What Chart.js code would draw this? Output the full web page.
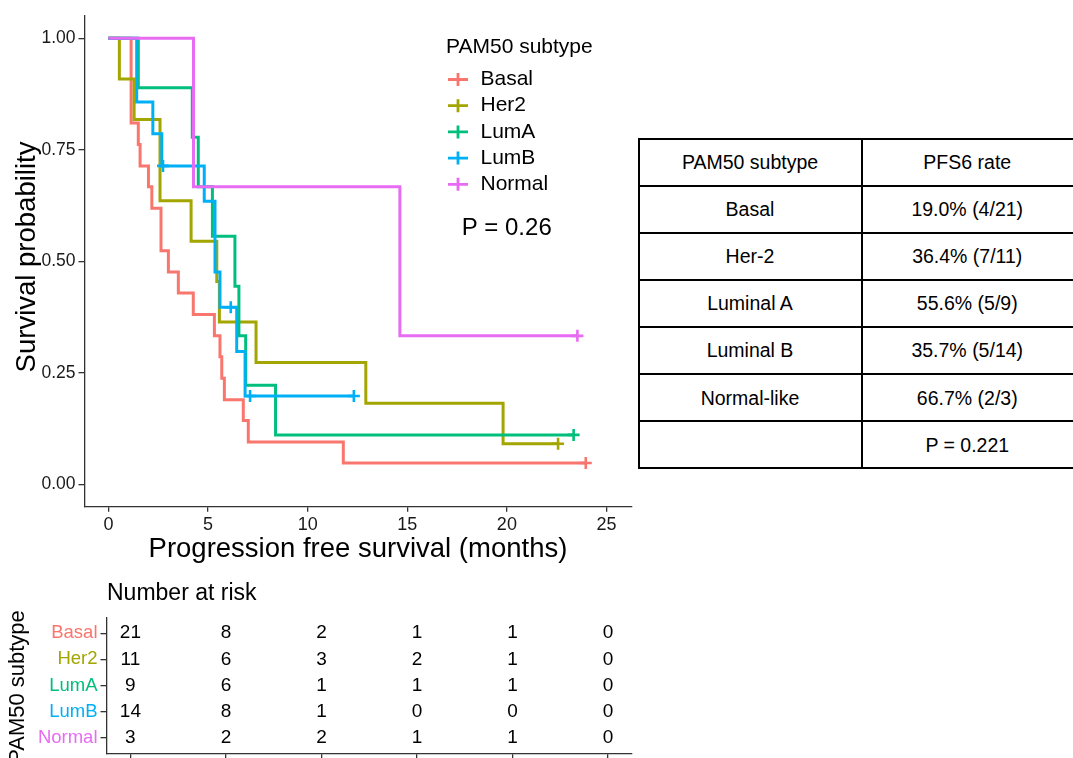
<!DOCTYPE html>
<html><head><meta charset="utf-8">
<script src="https://cdn.jsdelivr.net/npm/chart.js@4.4.1/dist/chart.umd.min.js"></script>
<style>
html,body{margin:0;padding:0;background:#fff;}
#wrap{position:relative;width:1073px;height:758px;overflow:hidden;font-family:"Liberation Sans",Arial,sans-serif;background:#fff;}
#main{position:absolute;left:0;top:0;}
#risk{position:absolute;left:0;top:560px;}
.tl{position:absolute;background:#000;}
.tc{position:absolute;text-align:center;font-size:19.5px;color:#000;line-height:22px;white-space:nowrap;transform:translate(-50%,-50%);}
</style></head><body>
<div id="wrap">
<canvas id="main" width="640" height="580"></canvas>
<canvas id="risk" width="640" height="198"></canvas>
<div id="tbl"></div>
</div>
<script>
// ---------- data ----------
const groups = ['Basal','Her2','LumA','LumB','Normal'];
const colors = ['#F8766D','#A3A500','#00BF7D','#00B0F6','#E76BF3'];

const basalTime = [0, 1.14, 1.50, 1.59, 2.01, 2.18, 2.64, 3.01, 3.51, 4.26, 5.32, 5.60, 5.69, 5.82, 6.77, 7.02, 11.79, 23.96];
const basalSurv = [1, 0.810, 0.762, 0.714, 0.667, 0.619, 0.524, 0.476, 0.429, 0.381, 0.333, 0.286, 0.238, 0.190, 0.143, 0.095, 0.048, 0.048];
const basalCensorTime = [23.96];
const basalCensorSurv = [0.048];

const her2Time = [0, 0.55, 1.29, 2.59, 4.15, 5.44, 5.57, 7.41, 12.92, 19.81, 22.57];
const her2Surv = [1, 0.909, 0.818, 0.636, 0.545, 0.455, 0.364, 0.273, 0.182, 0.091, 0.091];
const her2CensorTime = [22.57];
const her2CensorSurv = [0.091];

const lumATime = [0, 1.50, 4.21, 4.51, 5.22, 6.35, 6.55, 6.89, 8.39, 23.35];
const lumASurv = [1, 0.889, 0.778, 0.667, 0.556, 0.444, 0.333, 0.222, 0.111, 0.111];
const lumACensorTime = [23.35];
const lumACensorSurv = [0.111];

const lumBTime = [0, 1.42, 2.23, 2.68, 4.81, 5.35, 5.60, 6.44, 6.86, 12.32];
const lumBSurv = [1, 0.857, 0.786, 0.714, 0.635, 0.476, 0.397, 0.298, 0.198, 0.198];
const lumBCensorTime = [2.74, 6.14, 7.11, 12.32];
const lumBCensorSurv = [0.714, 0.397, 0.198, 0.198];

const normalTime = [0, 4.27, 14.63, 23.54];
const normalSurv = [1, 0.667, 0.333, 0.333];
const normalCensorTime = [23.54];
const normalCensorSurv = [0.333];

const xTicks = [0, 5, 10, 15, 20, 25];
const yTicks = [0, 0.25, 0.5, 0.75, 1];

const riskTimes = [0, 5, 10, 15, 20, 25];
const riskBasal  = [21, 8, 2, 1, 1, 0];
const riskHer2   = [11, 6, 3, 2, 1, 0];
const riskLumA   = [9, 6, 1, 1, 1, 0];
const riskLumB   = [14, 8, 1, 0, 0, 0];
const riskNormal = [3, 2, 2, 1, 1, 0];

const pLabel = 'P = 0.26';
const legendTitle = 'PAM50 subtype';
const xTitle = 'Progression free survival (months)';
const yTitle = 'Survival probability';
const riskTitle = 'Number at risk';

const tableHeader = ['PAM50 subtype', 'PFS6 rate'];
const tableSubtypes = ['Basal', 'Her-2', 'Luminal A', 'Luminal B', 'Normal-like', ''];
const tableRates = ['19.0% (4/21)', '36.4% (7/11)', '55.6% (5/9)', '35.7% (5/14)', '66.7% (2/3)', 'P = 0.221'];

// ---------- build ----------
const FONT = '"Liberation Sans", Arial, sans-serif';
const curveTimes = [basalTime, her2Time, lumATime, lumBTime, normalTime];
const curveSurv = [basalSurv, her2Surv, lumASurv, lumBSurv, normalSurv];
const censT = [basalCensorTime, her2CensorTime, lumACensorTime, lumBCensorTime, normalCensorTime];
const censS = [basalCensorSurv, her2CensorSurv, lumACensorSurv, lumBCensorSurv, normalCensorSurv];
const riskRows = [riskBasal, riskHer2, riskLumA, riskLumB, riskNormal];

const datasets = [];
groups.forEach((g, i) => {
  datasets.push({
    label: g,
    data: curveTimes[i].map((t, k) => ({x: t, y: curveSurv[i][k]})),
    borderColor: colors[i], backgroundColor: colors[i],
    borderWidth: 3, pointRadius: 0, stepped: 'before', fill: false,
    order: 20 - i * 2
  });
  datasets.push({
    label: g + ' censor',
    data: censT[i].map((t, k) => ({x: t, y: censS[i][k]})),
    borderColor: colors[i], backgroundColor: colors[i],
    showLine: false, pointStyle: 'cross', pointRadius: 6, pointBorderWidth: 2.6,
    order: 19 - i * 2
  });
});

const noPad = s => { s.paddingTop = 0; s.paddingBottom = 0; s.paddingLeft = 0; s.paddingRight = 0; };

const mainDeco = {
  id: 'mainDeco',
  afterDraw(chart) {
    const ctx = chart.ctx, a = chart.chartArea;
    ctx.save();
    ctx.fillStyle = '#000';
    ctx.textBaseline = 'middle';
    ctx.textAlign = 'center';
    ctx.font = '27.5px ' + FONT;
    ctx.fillText(xTitle, (a.left + a.right) / 2, 549);
    ctx.save();
    ctx.translate(27, 257); ctx.rotate(-Math.PI / 2);
    ctx.fillText(yTitle, 0, 0);
    ctx.restore();
    // legend
    ctx.textAlign = 'left';
    ctx.font = '21px ' + FONT;
    ctx.fillText(legendTitle, 446, 47);
    groups.forEach((g, i) => {
      const y = 79.5 + i * 26.2;
      ctx.strokeStyle = colors[i]; ctx.lineWidth = 2.8;
      ctx.beginPath(); ctx.moveTo(448, y); ctx.lineTo(468, y);
      ctx.moveTo(458, y - 6.5); ctx.lineTo(458, y + 6.5); ctx.stroke();
      ctx.fillStyle = '#000';
      ctx.fillText(g, 480.5, y);
    });
    ctx.textAlign = 'center';
    ctx.font = '24px ' + FONT;
    ctx.fillText(pLabel, 506.7, 228);
    ctx.restore();
  }
};

new Chart(document.getElementById('main'), {
  type: 'line',
  data: { datasets },
  options: {
    responsive: false, animation: false, devicePixelRatio: 1,
    layout: { padding: { top: 16, right: 8, left: 0, bottom: 0 } },
    plugins: { legend: { display: false }, tooltip: { enabled: false } },
    scales: {
      x: {
        type: 'linear', min: -1.2, max: 26.25,
        afterBuildTicks: s => { s.ticks = xTicks.map(v => ({value: v})); },
        afterFit: s => { s.height = 73.3; noPad(s); },
        border: { display: true, color: '#333', width: 1.3 },
        grid: { drawOnChartArea: false, drawTicks: true, tickLength: 5, color: '#333', lineWidth: 1.3 },
        ticks: { font: { size: 18, family: FONT }, color: '#1a1a1a', padding: 3, maxRotation: 0, callback: v => String(v) }
      },
      y: {
        type: 'linear', min: -0.05, max: 1.05,
        afterBuildTicks: s => { s.ticks = yTicks.map(v => ({value: v})); },
        afterFit: s => { s.width = 84.5; noPad(s); },
        border: { display: true, color: '#333', width: 1.3 },
        grid: { drawOnChartArea: false, drawTicks: true, tickLength: 6, color: '#333', lineWidth: 1.3 },
        ticks: { font: { size: 17.5, family: FONT }, color: '#1a1a1a', padding: 3, callback: v => Number(v).toFixed(2) }
      }
    }
  },
  plugins: [mainDeco]
});

// ---------- risk table ----------
const riskDeco = {
  id: 'riskDeco',
  afterDatasetsDraw(chart) {
    const ctx = chart.ctx, xs = chart.scales.x, ys = chart.scales.y;
    ctx.save();
    ctx.fillStyle = '#000';
    ctx.textAlign = 'center'; ctx.textBaseline = 'middle';
    ctx.font = '19px ' + FONT;
    riskRows.forEach((row, i) => {
      row.forEach((n, k) => {
        ctx.fillText(String(n), xs.getPixelForValue(riskTimes[k]), ys.getPixelForValue(i));
      });
    });
    ctx.textAlign = 'left';
    ctx.font = '23px ' + FONT;
    ctx.fillText(riskTitle, 107, 34);
    ctx.textAlign = 'center';
    ctx.font = '22px ' + FONT;
    ctx.translate(18, 127); ctx.rotate(-Math.PI / 2);
    ctx.fillText(legendTitle, 0, 0);
    ctx.restore();
  }
};

new Chart(document.getElementById('risk'), {
  type: 'scatter',
  data: { datasets: [] },
  options: {
    responsive: false, animation: false, devicePixelRatio: 1,
    layout: { padding: { top: 57.5, right: 8, left: 0, bottom: 0 } },
    plugins: { legend: { display: false }, tooltip: { enabled: false } },
    scales: {
      x: {
        type: 'linear', min: -1.25, max: 26.25,
        afterBuildTicks: s => { s.ticks = riskTimes.map(v => ({value: v})); },
        afterFit: s => { s.height = 4.5; noPad(s); },
        border: { display: true, color: '#333', width: 1.3 },
        grid: { drawOnChartArea: false, drawTicks: true, tickLength: 6, color: '#333', lineWidth: 1.3 },
        ticks: { display: true, callback: () => '', padding: 0 }
      },
      y: {
        type: 'linear', min: -0.6, max: 4.6, reverse: true,
        afterBuildTicks: s => { s.ticks = [0, 1, 2, 3, 4].map(v => ({value: v})); },
        afterFit: s => { s.width = 106.5; noPad(s); },
        border: { display: true, color: '#333', width: 1.3 },
        grid: { drawOnChartArea: false, drawTicks: true, tickLength: 6, color: '#333', lineWidth: 1.3 },
        ticks: { font: { size: 18.5, family: FONT }, padding: 3,
                 color: c => colors[c.index] || '#000',
                 callback: v => groups[v] }
      }
    }
  },
  plugins: [riskDeco]
});

// ---------- PFS6 table ----------
(function () {
  const tbl = document.getElementById('tbl');
  const top = 138.5, rowH = 47.1, left = 638.5, mid = 861.5, right = 1075;
  const nRows = tableSubtypes.length + 1;
  function line(x, y, w, h) {
    const d = document.createElement('div'); d.className = 'tl';
    d.style.left = x + 'px'; d.style.top = y + 'px'; d.style.width = w + 'px'; d.style.height = h + 'px';
    tbl.appendChild(d);
  }
  for (let i = 0; i <= nRows; i++) line(left, top + i * rowH - 1, right - left, 2);
  line(left - 1, top - 1, 2, nRows * rowH + 2);
  line(mid - 1, top - 1, 2, nRows * rowH + 2);
  function cell(text, cx, cy) {
    const d = document.createElement('div'); d.className = 'tc';
    d.style.left = cx + 'px'; d.style.top = cy + 'px'; d.textContent = text;
    tbl.appendChild(d);
  }
  const c1 = (left + mid) / 2, c2 = (mid + 1073) / 2;
  cell(tableHeader[0], c1, top + rowH / 2);
  cell(tableHeader[1], c2, top + rowH / 2);
  tableSubtypes.forEach((s, i) => {
    const cy = top + (i + 1.5) * rowH;
    if (s) cell(s, c1, cy);
    cell(tableRates[i], c2, cy);
  });
})();
</script>
</body></html>
